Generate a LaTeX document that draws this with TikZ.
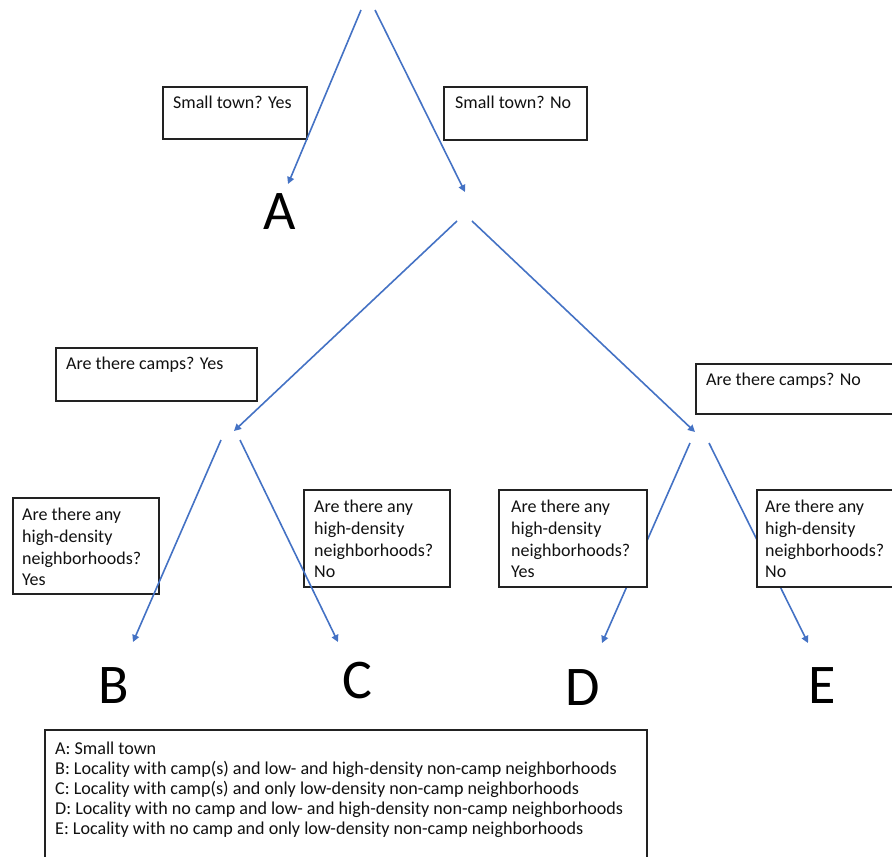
\documentclass[tikz,border=0pt]{standalone}
\usepackage{fontspec}
\setmainfont{Carlito}
\usetikzlibrary{arrows.meta}
\definecolor{arrowblue}{HTML}{4472C4}
\definecolor{boxline}{HTML}{222222}
\definecolor{txt}{HTML}{111111}
\begin{document}
\begin{tikzpicture}[x=1pt,y=-1pt,
  qbox/.style={draw=boxline, line width=1.8pt, fill=white, rectangle, inner sep=0pt, anchor=north west},
  qtext/.style={anchor=north west, inner sep=0pt, align=left, text=txt, font=\fontsize{18}{21.7}\selectfont},
  lgtext/.style={anchor=north west, inner sep=0pt, align=left, text=txt, font=\fontsize{18.1}{20}\selectfont},
  leaf/.style={inner sep=0pt, text=black, font=\fontsize{56}{60}\selectfont},
  branch/.style={draw=arrowblue, line width=1.6pt, -{Triangle[width=7pt,length=7pt]}}
]
\useasboundingbox (0,0) rectangle (892,857);

% leaf letters
\node[leaf] (A) at (280,212) {A};
\node[leaf] (B) at (114,686) {B};
\node[leaf] (C) at (357,681) {C};
\node[leaf] (D) at (583,688) {D};
\node[leaf] (E) at (822,686) {E};

% branch points
\coordinate (r1) at (361,10);
\coordinate (r2) at (375,10);
\coordinate (aA) at (288,184);
\coordinate (aN) at (465,192);
\coordinate (n1) at (457,221);
\coordinate (n2) at (472,221);
\coordinate (aY) at (234,431);
\coordinate (aNo) at (695,432);
\coordinate (y1) at (221,440);
\coordinate (y2) at (240,440);
\coordinate (aB) at (133,642);
\coordinate (aC) at (338,642);
\coordinate (m1) at (690,443);
\coordinate (m2) at (709,443);
\coordinate (aD) at (602,643);
\coordinate (aE) at (808,643);

% boxes drawn beneath the arrows
\node[qbox, minimum width=144pt, minimum height=52pt] (bSY) at (162,86) {};
\node[qtext] (tSY) at ([shift={(11pt,-10pt)}]bSY.north west) {Small town? Yes};
\node[qbox, minimum width=143pt, minimum height=53pt] (bSN) at (443,86) {};
\node[qtext] (tSN) at ([shift={(12pt,-10pt)}]bSN.north west) {Small town? No};
\node[qbox, minimum width=201pt, minimum height=53pt] (bCY) at (55,347) {};
\node[qtext] (tCY) at ([shift={(11pt,-10pt)}]bCY.north west) {Are there camps? Yes};
\node[qbox, minimum width=210pt, minimum height=50pt] (bCN) at (695,363) {};
\node[qtext] (tCN) at ([shift={(11pt,-10pt)}]bCN.north west) {Are there camps? No};
\node[qbox, minimum width=146pt, minimum height=96pt] (bHB) at (12,497) {};
\node[qtext] (tHB) at ([shift={(10pt,-11pt)}]bHB.north west) {Are there any\\high-density\\neighborhoods?\\Yes};
\node[qbox, minimum width=146pt, minimum height=97pt] (bHC) at (303,489) {};
\node[qtext] (tHC) at ([shift={(11pt,-11pt)}]bHC.north west) {Are there any\\high-density\\neighborhoods?\\No};

% arrows
\draw[branch] (r1) -- (aA);
\draw[branch] (r2) -- (aN);
\draw[branch] (n1) -- (aY);
\draw[branch] (n2) -- (aNo);
\draw[branch] (y1) -- (aB);
\draw[branch] (y2) -- (aC);
\draw[branch] (m1) -- (aD);
\draw[branch] (m2) -- (aE);

% boxes drawn over the arrows
\node[qbox, minimum width=148pt, minimum height=97pt] (bHD) at (498,489) {};
\node[qtext] (tHD) at ([shift={(13pt,-11pt)}]bHD.north west) {Are there any\\high-density\\neighborhoods?\\Yes};
\node[qbox, minimum width=150pt, minimum height=97pt] (bHE) at (756,489) {};
\node[qtext] (tHE) at ([shift={(9pt,-11pt)}]bHE.north west) {Are there any\\high-density\\neighborhoods?\\No};

% legend
\node[qbox, minimum width=602pt, minimum height=160pt] (leg) at (44,729) {};
\node[lgtext] (legt) at ([shift={(11pt,-13pt)}]leg.north west) {A: Small town\\
B: Locality with camp(s) and low- and high-density non-camp neighborhoods\\
C: Locality with camp(s) and only low-density non-camp neighborhoods\\
D: Locality with no camp and low- and high-density non-camp neighborhoods\\
E: Locality with no camp and only low-density non-camp neighborhoods};
\end{tikzpicture}
\end{document}
